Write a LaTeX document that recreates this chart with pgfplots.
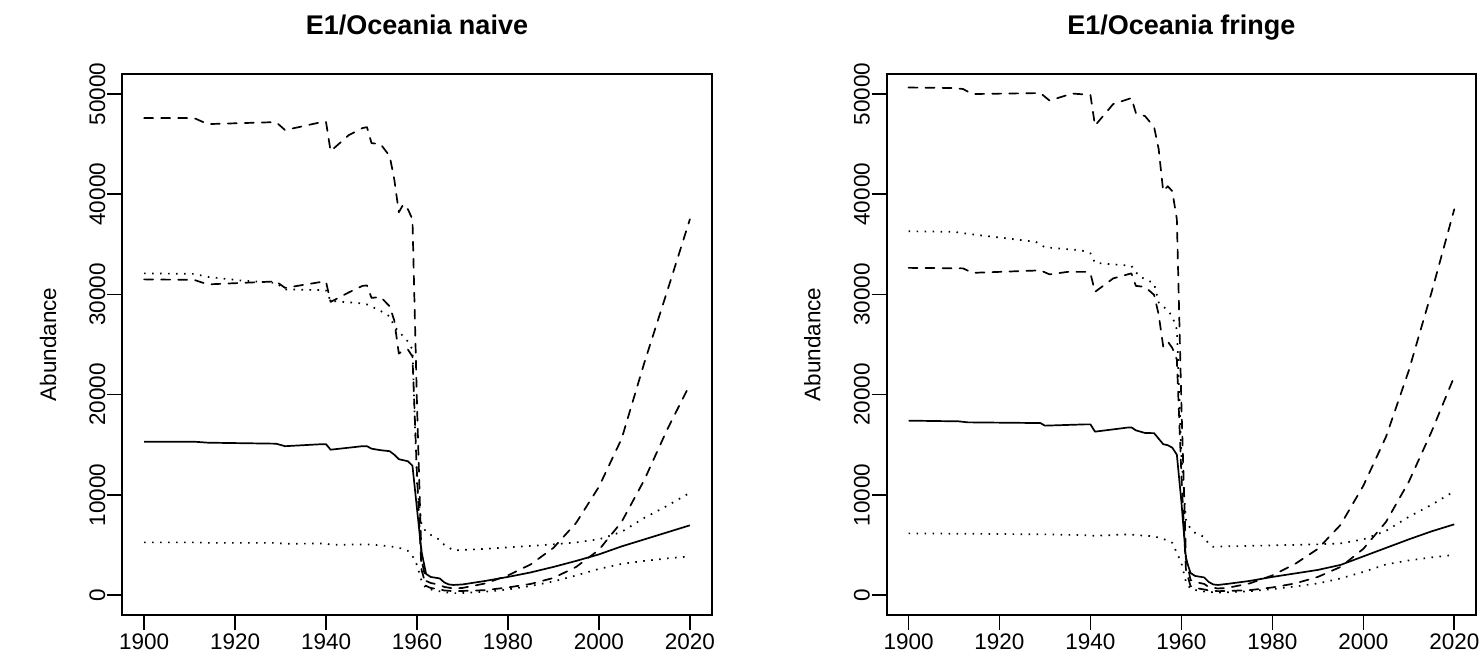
\documentclass[border=0pt]{standalone}
\usepackage{fontspec}
\setmainfont{Liberation Sans}
\usepackage{pgfplots}
\pgfplotsset{compat=1.18}

\pgfplotsset{
  abund/.style={
    scale only axis, width=294.7pt, height=270.5pt,
    xmin=1895.2, xmax=2024.8, ymin=-2000, ymax=52000,
    xtick={1900,1920,...,2020}, ytick={0,10000,...,50000},
    scaled y ticks=false, scaled x ticks=false,
    /pgf/number format/1000 sep={},
    /pgf/number format/assume math mode=true,
    tick pos=left, tick align=outside, major tick length=7.5pt,
    every tick/.style={black, line width=0.8pt},
    axis line style={line width=0.8pt},
    tick label style={font=\fontsize{11.25}{13.5}\selectfont},
    xticklabel style={anchor=base, yshift=-9.8pt},
    yticklabel style={xshift=-1.1pt, rotate=90, anchor=base},
    ylabel={Abundance},
    ylabel style={at={(axis description cs:-0.1261,0.5)}, anchor=center,
                  font=\fontsize{11.25}{13.5}\selectfont},
    title style={at={(axis description cs:0.5,1)}, anchor=base, yshift=14pt,
                 font=\bfseries\fontsize{13.5}{16}\selectfont},
    every axis plot/.append style={black, line width=0.85pt, line join=round},
  },
  rdash/.style={dash pattern=on 4.5pt off 4pt, line cap=round},
  rdot/.style={dash pattern=on 0.8pt off 3.2pt},
}

\begin{document}
\begin{tikzpicture}[x=1pt,y=1pt]
\useasboundingbox (0,0) rectangle (742,335);

% ---------------- naive scenario ----------------
\begin{axis}[abund, at={(61.15pt,27.5pt)}, anchor=south west,
  title={E1/Oceania naive}]
% upper 97.5% bound
\addplot[rdash] table {
1900 47600
1911 47600
1914 47000
1929 47200
1931 46400
1939 47200
1940 47200
1941 44300
1945 45900
1948 46600
1949 46700
1950 45100
1952 45000
1954 43800
1955 41500
1956 38200
1957 39000
1958 38500
1959 37500
1960 19000
1961 3500
1962 1400
1963 1200
1965 1000
1966 800
1968 650
1970 700
1975 1150
1980 1950
1985 3050
1990 4700
1995 7200
2000 10800
2005 15600
2010 23200
2015 30300
2020 37500
};
% upper 90% bound
\addplot[rdash] table {
1900 31500
1911 31450
1914 31000
1929 31300
1931 30650
1939 31250
1940 31250
1941 29250
1945 30200
1948 30850
1949 30900
1950 29650
1952 29750
1954 28800
1955 27400
1956 24100
1957 24400
1958 24500
1959 23800
1960 12000
1961 2500
1962 900
1963 700
1965 550
1966 450
1968 380
1970 400
1975 480
1980 750
1985 1100
1990 1700
1995 2800
2000 4500
2005 7300
2010 11500
2015 16500
2020 21000
};
% upper quartile
\addplot[rdot] table {
1900 32100
1911 32050
1914 31750
1921 31400
1929 31150
1931 30500
1939 30430
1940 30400
1941 29350
1948 29100
1949 29000
1952 28350
1954 27800
1955 26800
1957 25800
1958 25300
1959 24500
1960 11000
1961 7000
1962 6300
1963 6000
1965 5500
1966 5000
1968 4450
1970 4500
1975 4600
1980 4750
1985 4900
1990 5050
1995 5250
2000 5550
2005 6300
2010 7700
2015 8900
2020 10200
};
% median
\addplot[solid] table {
1900 15300
1911 15300
1914 15200
1929 15100
1931 14850
1939 15050
1940 15050
1941 14500
1948 14850
1949 14850
1950 14600
1952 14450
1954 14350
1955 14000
1956 13550
1958 13350
1959 12900
1960 8600
1961 4300
1962 2100
1963 1800
1965 1650
1966 1250
1967 1050
1968 1000
1970 1050
1975 1400
1980 1800
1985 2250
1990 2800
1995 3400
2000 4050
2005 4850
2010 5550
2015 6250
2020 6950
};
% lower bound
\addplot[rdot] table {
1900 5250
1911 5250
1914 5200
1929 5200
1931 5100
1940 5150
1941 5000
1949 5050
1952 4950
1955 4800
1957 4600
1958 4400
1959 3900
1960 3000
1961 1400
1962 650
1964 450
1966 280
1968 180
1970 190
1975 320
1980 550
1985 900
1990 1350
1995 1950
2000 2600
2005 3100
2010 3400
2015 3650
2020 3850
};
\end{axis}

% ---------------- fringe scenario ----------------
\begin{axis}[abund, at={(443.35pt,27.5pt)}, anchor=south west,
  title={E1/Oceania fringe}]
\addplot[rdash] table {
1900 50650
1910 50600
1912 50500
1914 50000
1929 50100
1931 49350
1936 50050
1939 49950
1940 49900
1941 46850
1945 49000
1949 49600
1950 48100
1952 47800
1954 46700
1955 44500
1956 40300
1957 40800
1958 40300
1959 37500
1960 19000
1961 3800
1962 1500
1963 1300
1965 1100
1966 800
1968 650
1970 700
1975 1150
1980 1950
1985 3100
1990 4600
1995 7000
2000 10900
2005 15800
2010 22400
2015 30200
2020 38500
};
\addplot[rdash] table {
1900 32650
1912 32600
1914 32150
1929 32400
1931 32000
1935 32250
1939 32250
1940 32100
1941 30250
1945 31600
1949 32100
1950 30850
1952 30750
1954 29950
1955 28000
1956 24800
1957 25300
1958 24650
1959 23500
1960 12000
1961 2500
1962 900
1963 700
1965 550
1966 450
1968 380
1970 400
1975 480
1980 750
1985 1150
1990 1800
1995 2800
2000 4600
2005 7300
2010 11300
2015 16300
2020 21800
};
\addplot[rdot] table {
1900 36300
1910 36250
1913 36050
1928 35250
1930 34700
1938 34400
1940 34100
1941 33150
1949 32850
1950 32200
1951 31750
1954 31100
1955 29200
1957 28400
1958 27800
1959 26500
1960 14000
1961 7500
1962 6600
1963 6200
1965 5800
1966 5100
1967 4800
1970 4850
1975 4900
1980 4950
1985 5000
1990 5050
1995 5150
2000 5550
2005 6400
2010 7800
2015 9000
2020 10350
};
\addplot[solid] table {
1900 17400
1911 17330
1913 17230
1929 17160
1930 16900
1939 17030
1940 17030
1941 16300
1948 16700
1949 16730
1950 16430
1952 16170
1954 16150
1955 15600
1956 15050
1957 14950
1958 14700
1959 14000
1960 9300
1961 3600
1962 2200
1963 1900
1965 1750
1966 1300
1967 1050
1968 1000
1970 1100
1975 1400
1980 1800
1985 2150
1990 2500
1995 3000
2000 3850
2005 4700
2010 5550
2015 6350
2020 7050
};
\addplot[rdot] table {
1900 6150
1930 6050
1940 5950
1941 5900
1948 6050
1954 5850
1956 5600
1958 5200
1959 4200
1960 3200
1961 1300
1962 600
1964 400
1966 300
1968 250
1970 270
1975 380
1980 580
1985 850
1990 1150
1995 1650
2000 2300
2005 3050
2010 3450
2015 3750
2020 4000
};
\end{axis}
\end{tikzpicture}
\end{document}
